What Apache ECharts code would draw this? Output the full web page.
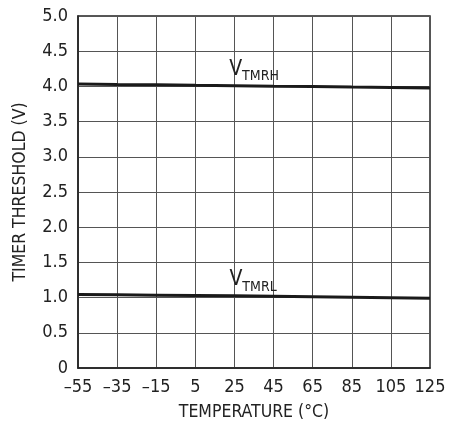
<!DOCTYPE html>
<html>
<head>
<meta charset="utf-8">
<script src="https://cdn.jsdelivr.net/npm/echarts@6/dist/echarts.min.js"></script>
<style>
  html, body { margin: 0; padding: 0; background: #fff; }
  #chart { width: 461px; height: 421px; }
</style>
</head>
<body>
<div id="chart"></div>
<script>
// Temperature points (°C) and threshold readings (V)
const temperatures = [-55, -35, -15, 5, 25, 45, 65, 85, 105, 125];
const vtmrh = [4.035, 4.028, 4.022, 4.015, 4.01, 4.003, 3.997, 3.99, 3.985, 3.978];
const vtmrl = [1.045, 1.04, 1.035, 1.03, 1.025, 1.019, 1.012, 1.005, 0.998, 0.99];

const FONT = '"DejaVu Sans Condensed", "Liberation Sans Narrow", "Liberation Sans", Arial, sans-serif';
const dash = v => String(v).replace('-', '\u2013');

const chart = echarts.init(document.getElementById('chart'), null, { renderer: 'canvas' });

function pairs(ys) { return temperatures.map((t, i) => [t, ys[i]]); }

function curveLabel(coord, sub) {
  return {
    symbol: 'rect', symbolSize: 0, silent: true,
    data: [{ coord: coord }],
    label: {
      show: true, position: 'inside',
      formatter: '{v|V}{s|' + sub + '}',
      rich: {
        v: { fontFamily: FONT, fontSize: 21, color: '#222', verticalAlign: 'bottom', lineHeight: 22 },
        s: { fontFamily: FONT, fontSize: 14, color: '#222', verticalAlign: 'bottom', lineHeight: 16, padding: [0, 0, -4, 0] }
      }
    }
  };
}

chart.setOption({
  animation: false,
  backgroundColor: '#fff',
  grid: {
    left: 78, right: 31, top: 16, bottom: 53,
    outerBoundsMode: 'none', containLabel: false,
    show: true, borderColor: '#222', borderWidth: 1.5, backgroundColor: 'transparent'
  },
  xAxis: {
    type: 'value', min: -55, max: 125, interval: 20,
    name: 'TEMPERATURE (°C)', nameLocation: 'middle', nameGap: 35,
    nameTextStyle: { fontFamily: FONT, fontSize: 17.5, color: '#222' },
    axisLine: { show: true, onZero: false, lineStyle: { color: '#222', width: 1.5 } },
    axisTick: { show: false },
    axisLabel: { fontFamily: FONT, fontSize: 18, color: '#222', margin: 10, formatter: dash },
    splitLine: { show: true, lineStyle: { color: '#555', width: 1 } }
  },
  yAxis: {
    type: 'value', min: 0, max: 5, interval: 0.5,
    name: 'TIMER THRESHOLD (V)', nameLocation: 'middle', nameGap: 49,
    nameTextStyle: { fontFamily: FONT, fontSize: 17.5, color: '#222' },
    axisLine: { show: true, onZero: false, lineStyle: { color: '#222', width: 1.5 } },
    axisTick: { show: false },
    axisLabel: { fontFamily: FONT, fontSize: 18, color: '#222', margin: 10,
      formatter: v => v === 0 ? '0' : v.toFixed(1) },
    splitLine: { show: true, lineStyle: { color: '#555', width: 1 } }
  },
  series: [
    {
      name: 'VTMRH', type: 'line', data: pairs(vtmrh), symbol: 'none',
      lineStyle: { color: '#1a1a1a', width: 3 },
      markPoint: curveLabel([35, 4.25], 'TMRH')
    },
    {
      name: 'VTMRL', type: 'line', data: pairs(vtmrl), symbol: 'none',
      lineStyle: { color: '#1a1a1a', width: 3 },
      markPoint: curveLabel([34.5, 1.26], 'TMRL')
    }
  ]
});
</script>
</body>
</html>
